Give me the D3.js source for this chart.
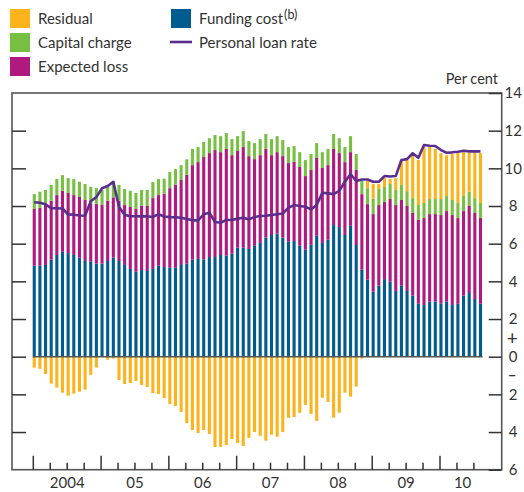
<!DOCTYPE html>
<html>
<head>
<meta charset="utf-8">
<script src="https://cdn.jsdelivr.net/npm/d3@7"></script>
<style>
  body { margin: 0; background: #fff; }
  text { font-family: Lato, "Noto Sans", sans-serif; fill: #333; }
</style>
</head>
<body>
<div id="chart"></div>
<script>
// Chart size
const width = 524,
      height = 492;

// Monthly data, Jan 2004 to Aug 2010 (per cent)
const fundingCost = [4.83, 4.83, 4.87, 5.15, 5.40, 5.57, 5.50, 5.40, 5.26, 5.08, 5.04, 4.94,
  4.94, 5.08, 5.26, 5.08, 4.87, 4.66, 4.51, 4.60, 4.55, 4.66, 4.83, 4.76,
  4.72, 4.72, 4.87, 4.94, 5.15, 5.19, 5.15, 5.29, 5.29, 5.40, 5.36, 5.47,
  5.79, 5.79, 5.72, 5.89, 6.04, 6.32, 6.46, 6.53, 6.32, 6.10, 6.14, 5.89,
  5.68, 5.94, 6.42, 6.04, 6.21, 6.99, 6.88, 6.46, 6.95, 5.93, 4.62, 4.09,
  3.45, 3.77, 4.12, 3.98, 3.49, 3.77, 3.49, 3.24, 2.81, 2.74, 2.92, 2.92,
  2.81, 2.92, 2.74, 2.81, 3.24, 3.38, 3.06, 2.81];

const expectedLoss = [3.01, 3.08, 3.18, 3.13, 3.18, 3.24, 3.19, 3.18, 3.22, 3.24, 3.10, 3.18,
  3.11, 3.20, 3.20, 3.20, 3.18, 3.29, 3.33, 3.42, 3.45, 3.76, 3.75, 3.89,
  4.23, 4.40, 4.51, 4.72, 5.02, 5.14, 5.45, 5.52, 5.68, 5.46, 5.67, 5.23,
  5.13, 5.34, 4.93, 4.60, 4.66, 4.71, 4.24, 4.33, 4.33, 4.18, 4.21, 4.18,
  3.91, 3.97, 4.13, 3.98, 3.96, 4.04, 3.93, 3.87, 3.91, 3.98, 4.01, 4.01,
  4.12, 4.28, 4.09, 4.39, 4.56, 4.55, 4.51, 4.39, 4.45, 4.62, 4.65, 4.65,
  4.71, 4.81, 4.78, 4.55, 4.49, 4.62, 4.57, 4.55];

const capitalCharge = [0.79, 0.85, 0.80, 0.84, 0.85, 0.83, 0.79, 0.85, 0.81, 0.85, 0.88, 0.83,
  0.80, 0.78, 0.87, 0.84, 0.85, 0.86, 0.85, 0.83, 0.85, 0.85, 0.85, 0.80,
  0.85, 0.84, 0.79, 0.82, 0.86, 0.80, 0.80, 0.79, 0.80, 0.85, 0.84, 0.85,
  0.79, 0.85, 0.80, 0.85, 0.85, 0.79, 0.85, 0.85, 0.85, 0.85, 0.83, 0.79,
  0.85, 0.85, 0.79, 0.84, 0.86, 0.79, 0.79, 0.80, 0.85, 0.85, 0.72, 0.85,
  0.83, 0.85, 0.80, 0.80, 0.80, 0.80, 0.79, 0.79, 0.79, 0.80, 0.80, 0.80,
  0.85, 0.80, 0.80, 0.80, 0.80, 0.76, 0.79, 0.80];

const residual = [-0.58, -0.64, -0.92, -1.43, -1.64, -1.91, -2.07, -1.96, -1.86, -1.75, -0.96, -0.58,
  0.00, -0.16, -0.10, -1.24, -1.45, -1.40, -1.29, -1.50, -1.61, -1.93, -1.98, -2.19,
  -2.51, -2.62, -2.93, -3.52, -3.89, -4.05, -3.89, -4.10, -4.79, -4.79, -4.69, -4.37,
  -4.58, -4.74, -4.31, -4.00, -4.20, -4.46, -4.14, -4.25, -4.00, -3.25, -3.20, -2.98,
  -2.56, -3.03, -3.41, -2.18, -2.40, -3.24, -2.97, -1.91, -2.12, -1.59, -0.10, 0.39,
  0.78, 0.27, 0.47, 0.26, 0.63, 1.32, 1.65, 2.28, 2.39, 2.97, 2.76, 2.66,
  2.44, 2.17, 2.44, 2.65, 2.33, 2.07, 2.44, 2.65];

const loanRate = [8.20, 8.17, 8.09, 7.88, 7.88, 7.87, 7.55, 7.54, 7.50, 7.48, 8.25, 8.47,
  8.94, 9.06, 9.28, 7.95, 7.53, 7.46, 7.46, 7.45, 7.46, 7.42, 7.56, 7.44,
  7.41, 7.40, 7.38, 7.31, 7.24, 7.24, 7.56, 7.64, 7.15, 7.11, 7.26, 7.26,
  7.33, 7.38, 7.29, 7.42, 7.47, 7.48, 7.52, 7.56, 7.60, 7.91, 8.05, 8.00,
  7.96, 7.82, 8.05, 8.70, 8.67, 8.63, 8.81, 9.29, 9.70, 9.33, 9.41, 9.41,
  9.29, 9.29, 9.59, 9.57, 9.59, 10.44, 10.49, 10.80, 10.56, 11.24, 11.20, 11.19,
  10.97, 10.83, 10.85, 10.88, 10.93, 10.90, 10.90, 10.90];

const yearLabels = ["2004", "05", "06", "07", "08", "09", "10"];
const yTicks = [14, 12, 10, 8, 6, 4, 2, 0, -2, -4, -6];

const seriesKeys = ["fundingCost", "expectedLoss", "capitalCharge", "residual"];
const colors = {
  fundingCost: "#005b8f",
  expectedLoss: "#b0197e",
  capitalCharge: "#78c043",
  residual: "#fdb31b",
  loanRate: "#5b2d8e"
};

// build the table d3.stack wants
const table = fundingCost.map((v, i) => ({
  month: i,
  fundingCost: v,
  expectedLoss: expectedLoss[i],
  capitalCharge: capitalCharge[i],
  residual: residual[i]
}));

const svg = d3.select("#chart").append("svg")
    .attr("width", width)
    .attr("height", height);

// plot area
const plot = { left: 12, right: 501.7, top: 93, bottom: 469.7 };

// month index -> x (0 = Jan 2004)
const x = d3.scaleLinear()
    .domain([0, 72])
    .range([33.3, 440]);

const y = d3.scaleLinear()
    .domain([-6, 14])
    .range([plot.bottom, plot.top]);

const barWidth = 3.1;

const stacked = d3.stack()
    .keys(seriesKeys)
    .offset(d3.stackOffsetDiverging)(table);

// bars
svg.append("g").selectAll("g")
    .data(stacked)
    .enter().append("g")
    .attr("fill", d => colors[d.key])
    .selectAll("rect")
    .data(d => d)
    .enter().append("rect")
    .attr("x", d => x(d.data.month) - 0.6)
    .attr("width", barWidth)
    .attr("y", d => y(Math.max(d[0], d[1])))
    .attr("height", d => Math.abs(y(d[0]) - y(d[1])));

// zero line across the bars
svg.append("line")
    .attr("x1", x(0) - 0.6)
    .attr("x2", x(fundingCost.length - 1) + barWidth)
    .attr("y1", y(0))
    .attr("y2", y(0))
    .style("stroke", "#555")
    .style("stroke-width", 1.6);

// personal loan rate line
const line = d3.line()
    .x((d, i) => x(i) + barWidth / 2 - 0.6)
    .y(d => y(d));

svg.append("path")
    .datum(loanRate)
    .attr("d", line)
    .style("fill", "none")
    .style("stroke", colors.loanRate)
    .style("stroke-width", 2.6)
    .style("stroke-linejoin", "round");

// frame
svg.append("rect")
    .attr("x", plot.left)
    .attr("y", plot.top)
    .attr("width", plot.right - plot.left)
    .attr("height", plot.bottom - plot.top)
    .style("fill", "none")
    .style("stroke", "#555")
    .style("stroke-width", 1.6);

// left axis: inward ticks, no labels
const leftAxis = svg.append("g")
    .attr("transform", `translate(${plot.left},0)`)
    .call(d3.axisLeft(y).tickValues(yTicks.slice(1, -1)).tickSize(-14).tickFormat(""));

// right axis: inward ticks, absolute values as labels
const rightAxis = svg.append("g")
    .attr("transform", `translate(${plot.right},0)`)
    .call(d3.axisRight(y).tickValues(yTicks).tickSize(-13).tickFormat(d => Math.abs(d)));

[leftAxis, rightAxis].forEach(g => {
    g.select(".domain").remove();
    g.selectAll(".tick line").style("stroke", "#333").style("stroke-width", 1.5);
});

rightAxis.selectAll("text")
    .attr("x", 11.5)
    .attr("text-anchor", "middle")
    .style("font-size", "15px")
    .style("font-family", "Lato, 'Noto Sans', sans-serif")
    .style("fill", "#333");

// + / - signs around zero
svg.append("text")
    .attr("x", plot.right + 10.5)
    .attr("y", y(0) - 12)
    .attr("text-anchor", "middle")
    .style("font-size", "19px")
    .text("+");
svg.append("text")
    .attr("x", plot.right + 10.5)
    .attr("y", y(0) + 23)
    .attr("text-anchor", "middle")
    .style("font-size", "15px")
    .style("font-weight", "bold")
    .text("\u2013");

svg.append("text")
    .attr("x", 498)
    .attr("y", 84)
    .attr("text-anchor", "end")
    .style("font-size", "14.5px")
    .text("Per cent");

// x axis: quarterly ticks, longer at year start
const quarterTicks = d3.range(0, fundingCost.length, 3);
svg.append("g").selectAll("line")
    .data(quarterTicks)
    .enter().append("line")
    .attr("x1", d => x(d))
    .attr("x2", d => x(d))
    .attr("y1", plot.bottom)
    .attr("y2", d => plot.bottom - (d % 12 === 0 ? 14 : 7))
    .style("stroke", "#333")
    .style("stroke-width", 1.5);

svg.append("g").selectAll("text")
    .data(yearLabels)
    .enter().append("text")
    .attr("x", (d, i) => {
        const monthsInYear = Math.min(12, fundingCost.length - i * 12);
        return x(i * 12 + monthsInYear / 2);
    })
    .attr("y", 488)
    .attr("text-anchor", "middle")
    .style("font-size", "15px")
    .text(d => d);

// legend
const legendItems = [
    { key: "residual", label: "Residual", x: 10, y: 9 },
    { key: "capitalCharge", label: "Capital charge", x: 10, y: 33 },
    { key: "expectedLoss", label: "Expected loss", x: 10, y: 57 },
    { key: "fundingCost", label: "Funding cost", x: 171, y: 9, sup: "(b)" }
];

const legend = svg.append("g").attr("class", "legend");

legendItems.forEach(item => {
    legend.append("rect")
        .attr("x", item.x)
        .attr("y", item.y)
        .attr("width", 20)
        .attr("height", 19)
        .style("fill", colors[item.key]);
    const t = legend.append("text")
        .attr("x", item.x + 28)
        .attr("y", item.y + 15)
        .style("font-size", "15px")
        .text(item.label);
    if (item.sup) {
        t.append("tspan")
            .attr("dx", 1)
            .attr("dy", -5)
            .style("font-size", "12.5px")
            .text(item.sup);
    }
});

legend.append("line")
    .attr("x1", 170)
    .attr("x2", 192)
    .attr("y1", 42)
    .attr("y2", 42)
    .style("stroke", colors.loanRate)
    .style("stroke-width", 2.6);
legend.append("text")
    .attr("x", 199)
    .attr("y", 48)
    .style("font-size", "15px")
    .text("Personal loan rate");
</script>
</body>
</html>
